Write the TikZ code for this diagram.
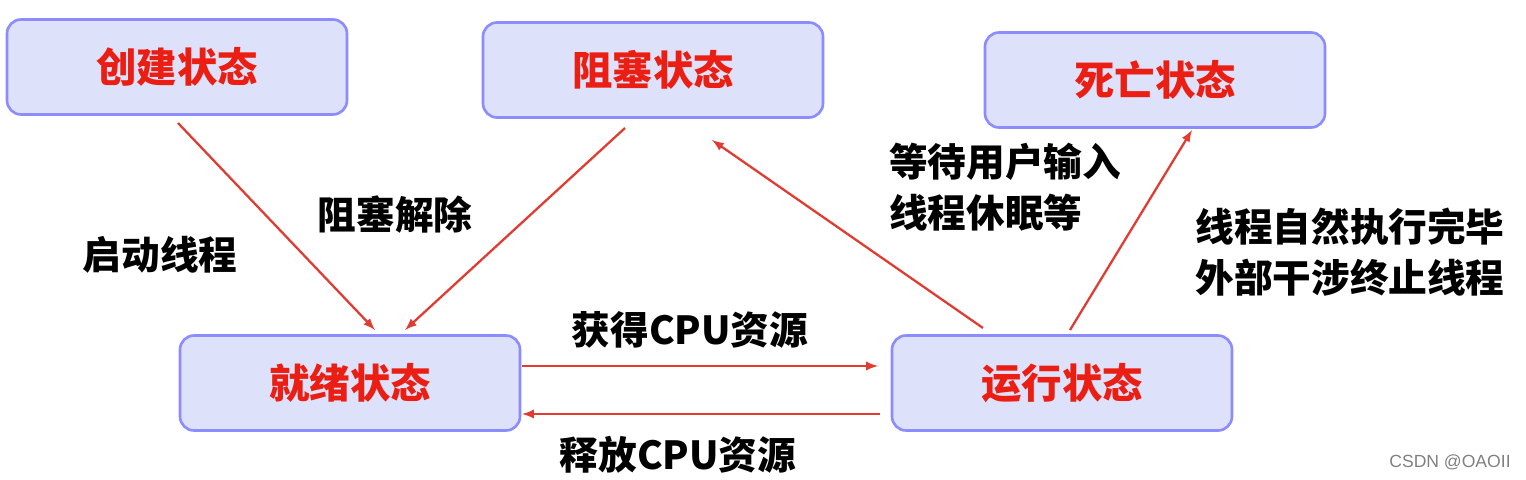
\documentclass[tikz,border=0pt]{standalone}
\usepackage{fontspec}
\setmainfont{Noto Sans CJK SC}
\newfontfamily\lab{Liberation Sans}
\begin{document}
\begin{tikzpicture}[x=0.02cm,y=-0.02cm,
  st/.style={draw=blue!45!white,line width=1.5pt,fill={rgb,255:red,221;green,226;blue,250},rounded corners=8pt,minimum width=340*0.02cm,minimum height=95*0.02cm,text={rgb,255:red,235;green,30;blue,20},font=\fontsize{23}{26}\selectfont\bfseries},
  lb/.style={font=\fontsize{22}{29}\selectfont\bfseries,align=left},
  ar/.style={draw={rgb,255:red,225;green,60;blue,50},line width=1.3pt,-latex}]
\useasboundingbox (0,0) rectangle (1526,480);
\node[st] (c) at (177,67) {创建状态};
\node[st] (b) at (653,70) {阻塞状态};
\node[st] (d) at (1155,80) {死亡状态};
\node[st] (r) at (350,383) {就绪状态};
\node[st] (u) at (1062,383) {运行状态};
\coordinate (c1) at (178,123); \coordinate (r1) at (375,330);
\coordinate (b1) at (625,128); \coordinate (r2) at (405,330);
\coordinate (r3) at (522,366); \coordinate (u3) at (878,366);
\coordinate (u4) at (880,414); \coordinate (r4) at (522,414);
\coordinate (u5) at (983,328); \coordinate (b5) at (712,140);
\coordinate (u6) at (1070,330); \coordinate (d6) at (1192,130);
\draw[ar] (c1) -- (r1);
\draw[ar] (b1) -- (r2);
\draw[ar] (r3) -- (u3);
\draw[ar] (u4) -- (r4);
\draw[ar] (u5) -- (b5);
\draw[ar] (u6) -- (d6);
\node[lb] (l1) at (160,255) {启动线程};
\node[lb] (l2) at (395,215) {阻塞解除};
\node[lb] (l3) at (690,330) {获得CPU资源};
\node[lb] (l4) at (678,455) {释放CPU资源};
\node[lb] (l5) at (1005,187) {等待用户输入\\线程休眠等};
\node[lb] (l6) at (1350,252) {线程自然执行完毕\\外部干涉终止线程};
\node[text=gray,font=\lab\fontsize{10}{12}\selectfont] (w) at (1450,462) {CSDN @OAOII};
\end{tikzpicture}
\end{document}
